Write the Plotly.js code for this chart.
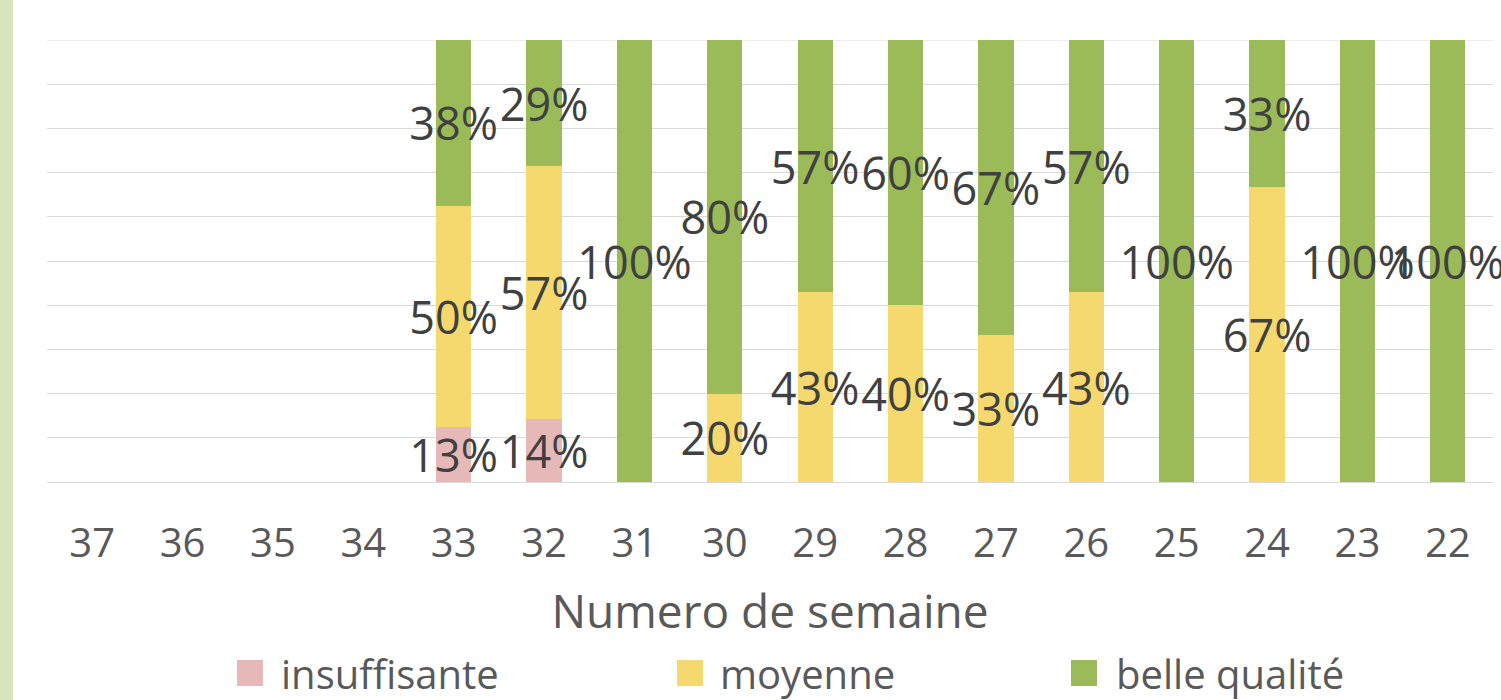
<!DOCTYPE html>
<html>
<head>
<meta charset="utf-8">
<script src="https://cdn.plot.ly/plotly-3.0.1.min.js"></script>
<style>
  html, body { margin: 0; padding: 0; background: #ffffff; }
  #wrap { position: relative; width: 1501px; height: 700px; overflow: hidden; }
  #strip { position: absolute; left: 0; top: 0; width: 13px; height: 700px; background: #d8e4bd; z-index: 2; }
  #chart { position: absolute; left: 0; top: 0; width: 1501px; height: 700px; }
</style>
</head>
<body>
<div id="wrap">
  <div id="chart"></div>
  <div id="strip"></div>
</div>
<script>
// Week numbers (categories)
const weeks = ['37','36','35','34','33','32','31','30','29','28','27','26','25','24','23','22'];

// Share of each quality class per week (fractions)
const insuffisante = [null,null,null,null,0.125,0.143,null,null,null,null,null,null,null,null,null,null];
const moyenne      = [null,null,null,null,0.5,0.571,null,0.2,0.429,0.4,0.333,0.429,null,0.667,null,null];
const belleQualite = [null,null,null,null,0.375,0.286,1,0.8,0.571,0.6,0.667,0.571,1,0.333,1,1];

const seriesNames = ['insuffisante', 'moyenne', 'belle qualité'];
const seriesColors = ['#e6b9b8', '#f5d96f', '#9bbb59'];
const seriesValues = [insuffisante, moyenne, belleQualite];

const axisTitle = 'Numero de semaine';

function pctText(arr) {
  return arr.map(v => (v === null ? '' : Math.round(v * 100) + '%'));
}

const labelFont = { family: 'Open Sans, sans-serif', size: 45, color: '#404040' };

const traces = seriesValues.map((vals, i) => ({
  type: 'bar',
  name: seriesNames[i],
  x: weeks,
  y: vals,
  text: pctText(vals),
  textposition: 'inside',
  insidetextanchor: 'middle',
  textangle: 0,
  constraintext: 'none',
  insidetextfont: labelFont,
  textfont: labelFont,
  cliponaxis: false,
  marker: { color: seriesColors[i], line: { width: 0 } },
  showlegend: false,
  hoverinfo: 'skip'
}));

// Plot area geometry in px (for placing the custom legend)
const W = 1501, H = 700;
const m = { l: 47, r: 8, t: 40, b: 218 };
const pw = W - m.l - m.r, ph = H - m.t - m.b;
const px = x => (x - m.l) / pw;
const py = y => (H - m.b - y) / ph;

const legendItems = [
  { sq: 237, tx: 279 },
  { sq: 677, tx: 718 },
  { sq: 1071, tx: 1114 }
];
const sqTop = 660, sqSize = 26, legCenter = 673;

const shapes = legendItems.map((it, i) => ({
  type: 'rect', xref: 'paper', yref: 'paper',
  x0: px(it.sq), x1: px(it.sq + sqSize),
  y0: py(sqTop + sqSize), y1: py(sqTop),
  fillcolor: seriesColors[i], line: { width: 0 }
}));
// top gridline at 100%
shapes.push({
  type: 'line', xref: 'paper', yref: 'y', x0: 0, x1: 1, y0: 1, y1: 1,
  line: { color: '#d9d9d9', width: 1 }, layer: 'below'
});

const annotations = legendItems.map((it, i) => ({
  xref: 'paper', yref: 'paper',
  x: px(it.tx), y: py(legCenter),
  xanchor: 'left', yanchor: 'middle',
  text: seriesNames[i], showarrow: false,
  font: { family: 'Open Sans, sans-serif', size: 40, color: '#595959' }
}));

const layout = {
  width: W, height: H,
  margin: m,
  paper_bgcolor: '#ffffff',
  plot_bgcolor: '#ffffff',
  barmode: 'stack',
  bargap: 0.61,
  showlegend: false,
  xaxis: {
    type: 'category',
    ticks: '',
    showgrid: false,
    showline: false,
    zeroline: false,
    ticklabelstandoff: 34,
    tickfont: { family: 'Open Sans, sans-serif', size: 40, color: '#595959' },
    title: { text: axisTitle, font: { family: 'Open Sans, sans-serif', size: 46, color: '#595959' }, standoff: 27 },
    automargin: false
  },
  yaxis: {
    range: [0, 1],
    dtick: 0.1,
    showticklabels: false,
    ticks: '',
    showgrid: true,
    gridcolor: '#d9d9d9',
    gridwidth: 1,
    zeroline: true,
    zerolinecolor: '#d9d9d9',
    zerolinewidth: 1,
    showline: false,
    fixedrange: true,
    automargin: false
  },
  shapes: shapes,
  annotations: annotations
};

Plotly.newPlot('chart', traces, layout, { displayModeBar: false, staticPlot: true });
</script>
</body>
</html>
